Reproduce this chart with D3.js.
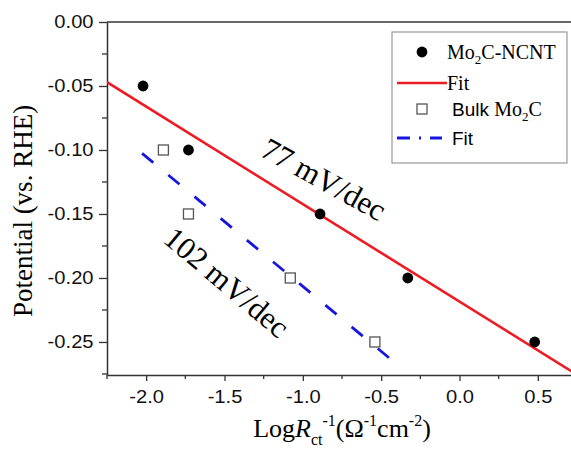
<!DOCTYPE html>
<html>
<head>
<meta charset="utf-8">
<script src="https://cdn.jsdelivr.net/npm/d3@7"></script>
<style>
  html, body { margin: 0; padding: 0; background: #fff; }
  svg { display: block; }
  .serif { font-family: "Liberation Serif", "Times New Roman", serif; }
  .sans { font-family: "Liberation Sans", Arial, sans-serif; }
</style>
</head>
<body>
<svg id="chart" width="571" height="450"></svg>
<script>
// Mo2C-NCNT measurements
const ncntX = [-2.02, -1.73, -0.89, -0.33, 0.48];
const ncntY = [-0.05, -0.10, -0.15, -0.20, -0.25];
// Bulk Mo2C measurements
const bulkX = [-1.89, -1.73, -1.08, -0.54];
const bulkY = [-0.10, -0.15, -0.20, -0.25];
// Linear fits (end points)
const ncntFitX = [-2.25, 0.75];
const ncntFitY = [-0.047, -0.2756];
const bulkFitX = [-2.026, -0.426];
const bulkFitY = [-0.1026, -0.2648];
// Axis ticks
const xTicks = [-2.0, -1.5, -1.0, -0.5, 0.0, 0.5];
const xMinor = [-2.25, -1.75, -1.25, -0.75, -0.25, 0.25, 0.75];
const yTicks = [0.00, -0.05, -0.10, -0.15, -0.20, -0.25];
const yMinor = [-0.025, -0.075, -0.125, -0.175, -0.225, -0.275];
const xTickLabels = ["-2.0", "-1.5", "-1.0", "-0.5", "0.0", "0.5"];
const yTickLabels = ["0.00", "-0.05", "-0.10", "-0.15", "-0.20", "-0.25"];
// Slope annotations
const slopeLabels = ["77 mV/dec", "102 mV/dec"];

const svg = d3.select("#chart");
const mLeft = 107, mRight = 577, mTop = 22, mBottom = 375;

const x = d3.scaleLinear().domain([-2.25, 0.75]).range([mLeft, mRight]);
const y = d3.scaleLinear().domain([-0.2758, 0]).range([mBottom, mTop]);

const RED = "#ec1c24";
const BLUE = "#1616dc";

svg.append("defs").append("clipPath").attr("id", "plot")
  .append("rect").attr("x", mLeft).attr("y", mTop)
  .attr("width", mRight - mLeft).attr("height", mBottom - mTop);

// Frame (top line)
svg.append("line").attr("x1", mLeft).attr("x2", mRight).attr("y1", mTop).attr("y2", mTop)
  .attr("stroke", "#333").attr("stroke-width", 1.5);

// Bottom axis
const xAxis = svg.append("g").attr("transform", `translate(0,${mBottom})`)
  .call(d3.axisBottom(x).tickValues(xTicks).tickSize(6).tickSizeOuter(0).tickFormat((d, i) => xTickLabels[i]));
xAxis.append("g").selectAll("line").data(xMinor).join("line")
  .attr("x1", d => x(d)).attr("x2", d => x(d)).attr("y1", 0).attr("y2", 4);

// Left axis
const yAxis = svg.append("g").attr("transform", `translate(${mLeft},0)`)
  .call(d3.axisLeft(y).tickValues(yTicks).tickSize(8).tickSizeOuter(0).tickFormat((d, i) => yTickLabels[i]));
yAxis.append("g").selectAll("line").data(yMinor).join("line")
  .attr("x1", -5).attr("x2", 0).attr("y1", d => y(d)).attr("y2", d => y(d));

[xAxis, yAxis].forEach(a => {
  a.selectAll("path.domain").attr("stroke", "#333").attr("stroke-width", 1.5);
  a.selectAll("line").attr("stroke", "#333").attr("stroke-width", 1.3);
  a.selectAll("text").attr("class", "sans").attr("font-size", 18).attr("fill", "#111")
    .attr("transform", "scale(1.12,1)");
});
xAxis.selectAll(".tick text").attr("y", 15).attr("dy", "0.71em");
yAxis.selectAll(".tick text").attr("x", -12);

// Fit lines
const line = d3.line().x(d => x(d[0])).y(d => y(d[1]));
const plot = svg.append("g").attr("clip-path", "url(#plot)");
plot.append("path").datum(ncntFitX.map((v, i) => [v, ncntFitY[i]]))
  .attr("d", line).attr("fill", "none").attr("stroke", RED).attr("stroke-width", 2.6);
plot.append("path").datum(bulkFitX.map((v, i) => [v, bulkFitY[i]]))
  .attr("d", line).attr("fill", "none").attr("stroke", BLUE).attr("stroke-width", 2.8)
  .attr("stroke-dasharray", "14.5,19.5");

// Points
plot.selectAll("circle.ncnt").data(ncntX).join("circle").attr("class", "ncnt")
  .attr("cx", d => x(d)).attr("cy", (d, i) => y(ncntY[i])).attr("r", 5.4).attr("fill", "#000");
plot.selectAll("rect.bulk").data(bulkX).join("rect").attr("class", "bulk")
  .attr("x", d => x(d) - 5).attr("y", (d, i) => y(bulkY[i]) - 5)
  .attr("width", 10).attr("height", 10)
  .attr("fill", "#fff").attr("stroke", "#555").attr("stroke-width", 1.3);

// Slope annotations
svg.append("text").attr("class", "serif").attr("font-size", 31)
  .attr("text-anchor", "middle").attr("dy", "0.35em")
  .attr("transform", "translate(324,179) rotate(29)").text(slopeLabels[0]);
svg.append("text").attr("class", "serif").attr("font-size", 31)
  .attr("text-anchor", "middle").attr("dy", "0.35em")
  .attr("transform", "translate(227,282) rotate(40)").text(slopeLabels[1]);

// Axis titles
svg.append("text").attr("class", "serif").attr("font-size", 27)
  .attr("text-anchor", "middle")
  .attr("transform", "translate(32,211) rotate(-90)")
  .text("Potential (vs. RHE)");

const xt = svg.append("text").attr("class", "serif").attr("font-size", 26)
  .attr("text-anchor", "middle").attr("x", 342).attr("y", 437);
xt.append("tspan").text("Log");
xt.append("tspan").attr("font-style", "italic").text("R");
xt.append("tspan").attr("font-size", 16).attr("dy", 8).text("ct");
xt.append("tspan").attr("font-size", 16).attr("dy", -19).text("-1");
xt.append("tspan").attr("dy", 11).text("(Ω");
xt.append("tspan").attr("font-size", 16).attr("dy", -11).text("-1");
xt.append("tspan").attr("dy", 11).text("cm");
xt.append("tspan").attr("font-size", 16).attr("dy", -11).text("-2");
xt.append("tspan").attr("dy", 11).text(")");

// Legend
const lg = svg.append("g");
lg.append("rect").attr("x", 392).attr("y", 32).attr("width", 175).attr("height", 131)
  .attr("fill", "#fff").attr("stroke", "#999").attr("stroke-width", 1.2);

lg.append("circle").attr("cx", 422).attr("cy", 52).attr("r", 5.4).attr("fill", "#000");
const t1 = lg.append("text").attr("class", "serif").attr("font-size", 20)
  .attr("x", 447).attr("y", 59);
t1.append("tspan").text("Mo");
t1.append("tspan").attr("font-size", 13).attr("dy", 5).text("2");
t1.append("tspan").attr("dy", -5).text("C-NCNT");

lg.append("line").attr("x1", 397).attr("x2", 447).attr("y1", 83).attr("y2", 83)
  .attr("stroke", RED).attr("stroke-width", 2.6);
lg.append("text").attr("class", "serif").attr("font-size", 20)
  .attr("x", 447).attr("y", 90).text("Fit");

lg.append("rect").attr("x", 417).attr("y", 104).attr("width", 10).attr("height", 10)
  .attr("fill", "#fff").attr("stroke", "#555").attr("stroke-width", 1.3);
const t3 = lg.append("text").attr("x", 452).attr("y", 116);
t3.append("tspan").attr("class", "sans").attr("font-size", 19).text("Bulk ");
t3.append("tspan").attr("class", "serif").attr("font-size", 20).text("Mo");
t3.append("tspan").attr("class", "serif").attr("font-size", 13).attr("dy", 5).text("2");
t3.append("tspan").attr("class", "serif").attr("font-size", 20).attr("dy", -5).text("C");

lg.append("line").attr("x1", 397).attr("x2", 442).attr("y1", 138).attr("y2", 138)
  .attr("stroke", BLUE).attr("stroke-width", 2.8).attr("stroke-dasharray", "13,9,2,9");
lg.append("text").attr("class", "sans").attr("font-size", 19)
  .attr("x", 452).attr("y", 145).text("Fit");
</script>
</body>
</html>
